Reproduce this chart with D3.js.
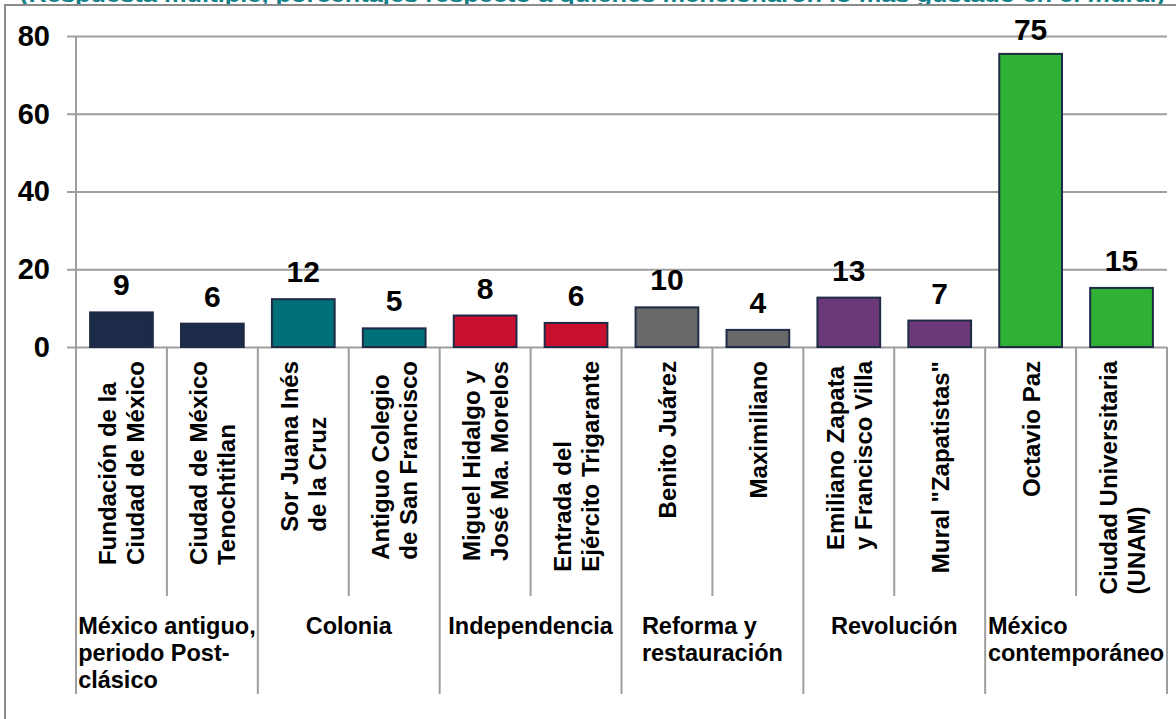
<!DOCTYPE html>
<html><head><meta charset="utf-8">
<script src="https://cdn.jsdelivr.net/npm/d3@7/dist/d3.min.js"></script>
<style>
html,body{margin:0;padding:0;background:#fff;overflow:hidden}
text{font-family:"Liberation Sans",Arial,sans-serif;font-weight:bold}
</style></head>
<body>
<svg id="c" width="1176" height="719"></svg>
<script>
// ---- data ----
const categories = [
  "Fundación de la|Ciudad de México",
  "Ciudad de México|Tenochtitlan",
  "Sor Juana Inés|de la Cruz",
  "Antiguo Colegio|de San Francisco",
  "Miguel Hidalgo y|José Ma. Morelos",
  "Entrada del|Ejército Trigarante",
  "Benito Juárez",
  "Maximiliano",
  "Emiliano Zapata|y Francisco Villa",
  "Mural \"Zapatistas\"",
  "Octavio Paz",
  "Ciudad Universitaria|(UNAM)"
];
const values = [8.9, 6.0, 12.3, 4.8, 8.1, 6.2, 10.2, 4.4, 12.7, 6.8, 75.4, 15.2];
const groups = [
  "México antiguo,|periodo Post-|clásico",
  "Colonia",
  "Independencia",
  "Reforma y|restauración",
  "Revolución",
  "México|contemporáneo"
];
const groupSizes = [2, 2, 2, 2, 2, 2];
const yTicks = [0, 20, 40, 60, 80];
const title = "(Respuesta múltiple, porcentajes respecto a quienes mencionaron lo más gustado en el mural)";
const groupColors = ["#1c2b48", "#007079", "#c8102e", "#696969", "#6c3978", "#2eb135"];

// ---- layout ----
const svg = d3.select("#c");
const L = 76, R = 1167, T = 36, B = 347;
const tickBottom = 596, groupBottom = 694;
const x = d3.scaleBand().domain(d3.range(categories.length)).range([L, R]).paddingInner(0.31).paddingOuter(0.155);
const y = d3.scaleLinear().domain([0, 80]).range([B, T]);
const grid = "#9e9e9e";

const groupOf = [];
groupSizes.forEach((n, gi) => { for (let k = 0; k < n; k++) groupOf.push(gi); });

// title (clipped at top, as in the reference)
svg.append("text").attr("x", 20).attr("y", 2).attr("font-size", 21).attr("fill", "#14808a")
  .attr("textLength", 1145).attr("lengthAdjust", "spacingAndGlyphs").text(title);

// frame
svg.append("path").attr("d", "M5,719 L5,5 L1176,5").attr("fill", "none").attr("stroke", "#8c8c8c").attr("stroke-width", 2);

// gridlines
svg.append("g").attr("transform", `translate(${L},0)`)
  .call(d3.axisLeft(y).tickValues(yTicks).tickSize(-(R - L)).tickFormat(""))
  .call(g => g.select(".domain").remove())
  .call(g => g.selectAll("line").attr("stroke", grid).attr("stroke-width", 2));

// y axis ticks + labels
svg.append("g").attr("transform", `translate(${L},0)`)
  .call(d3.axisLeft(y).tickValues(yTicks).tickSize(9).tickPadding(17).tickSizeOuter(0))
  .call(g => g.select(".domain").remove())
  .call(g => g.selectAll("line").attr("stroke", grid).attr("stroke-width", 2))
  .call(g => g.selectAll("text").attr("font-size", 29).attr("fill", "#000")
    .attr("font-family", '"Liberation Sans",Arial,sans-serif').attr("font-weight", "bold"));

// axis vertical line
svg.append("line").attr("x1", L).attr("x2", L).attr("y1", T).attr("y2", groupBottom)
  .attr("stroke", grid).attr("stroke-width", 2);

// category separators
const step = x.step();
const bounds = d3.range(1, categories.length + 1);
let cum = 0; const groupEnds = new Set();
groupSizes.forEach(n => { cum += n; groupEnds.add(cum); });
svg.append("g").selectAll("line").data(bounds).join("line")
  .attr("x1", i => L + i * step).attr("x2", i => L + i * step)
  .attr("y1", B).attr("y2", i => groupEnds.has(i) ? groupBottom : tickBottom)
  .attr("stroke", grid).attr("stroke-width", 2);

// bars
svg.append("g").selectAll("rect").data(values).join("rect")
  .attr("x", (d, i) => x(i)).attr("width", x.bandwidth())
  .attr("y", d => y(d)).attr("height", d => B - y(d))
  .attr("fill", (d, i) => groupColors[groupOf[i]])
  .attr("stroke", "#1f2b45").attr("stroke-width", 2);

// data labels
svg.append("g").selectAll("text").data(values).join("text")
  .attr("x", (d, i) => x(i) + x.bandwidth() / 2)
  .attr("y", d => Math.max(y(d) - 17, 40))
  .attr("text-anchor", "middle").attr("font-size", 30).attr("fill", "#000")
  .text(d => d3.format(".0f")(d));

// rotated category labels
const lh = 28, labelTop = 361;
categories.forEach((c, i) => {
  const lines = c.split("|");
  const cx = x(i) + x.bandwidth() / 2;
  const g = svg.append("g");
  const texts = lines.map(ln => g.append("text").attr("font-size", 24).attr("fill", "#000").text(ln));
  const maxW = d3.max(texts, t => t.node().getComputedTextLength());
  const startY = labelTop + maxW;
  texts.forEach((t, k) => {
    const bx = cx - lines.length * lh / 2 + k * lh + 23;
    t.attr("transform", `translate(${bx},${startY}) rotate(-90)`).attr("x", 0).attr("y", 0);
  });
});

// group labels
let start = 0;
groups.forEach((gname, gi) => {
  const n = groupSizes[gi];
  const gx0 = L + start * step, gx1 = L + (start + n) * step;
  start += n;
  const lines = gname.split("|");
  const g = svg.append("g");
  const texts = lines.map((ln, k) => g.append("text").attr("font-size", 23.5).attr("fill", "#000")
    .attr("y", 634 + k * 27).text(ln));
  const maxW = d3.max(texts, t => t.node().getComputedTextLength());
  const bx = Math.max(gx0 + 1.5, (gx0 + gx1) / 2 - maxW / 2);
  texts.forEach(t => t.attr("x", bx));
});
</script>
</body></html>
